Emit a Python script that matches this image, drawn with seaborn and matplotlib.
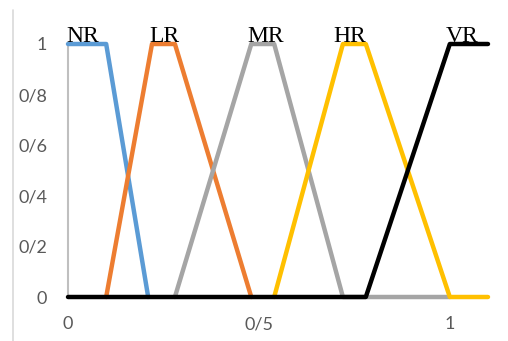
import numpy as np
import pandas as pd
import matplotlib
matplotlib.use("Agg")
import matplotlib.pyplot as plt
from matplotlib.lines import Line2D
import seaborn as sns

# Funciones de pertenencia
nr_x = [0.0, 0.10, 0.21]
nr_y = [1, 1, 0]
lr_x = [0.10, 0.22, 0.28, 0.48]
lr_y = [0, 1, 1, 0]
mr_x = [0.28, 0.48, 0.54, 0.72, 1.0]
mr_y = [0, 1, 1, 0, 0]
hr_x = [0.54, 0.72, 0.78, 1.0, 1.1]
hr_y = [0, 1, 1, 0, 0]
vr_x = [0.0, 0.78, 1.0, 1.1]
vr_y = [0, 0, 1, 1]

series_names = ["NR", "LR", "MR", "HR", "VR"]
series_colors = ["#5B9BD5", "#ED7D31", "#A5A5A5", "#FFC000", "#000000"]
label_x = [-0.003, 0.212, 0.471, 0.694, 0.99]

x_ticks = [0, 0.5, 1]
x_tick_labels = ["0", "0/5", "1"]
y_ticks = [0, 0.2, 0.4, 0.6, 0.8, 1]
y_tick_labels = ["0", "0/2", "0/4", "0/6", "0/8", "1"]

sns.set_style("white")
plt.rcParams['font.family'] = ['Lato', 'DejaVu Sans']

fig = plt.figure(figsize=(5.08, 3.41), dpi=100)
ax = fig.add_axes([68 / 508, 44 / 341, 420 / 508, 253 / 341])

series = [(nr_x, nr_y), (lr_x, lr_y), (mr_x, mr_y), (hr_x, hr_y), (vr_x, vr_y)]
# gris debajo del amarillo, negro encima de todo
for i in [0, 1, 2, 3, 4]:
    xs, ys = series[i]
    sns.lineplot(x=xs, y=ys, sort=False, color=series_colors[i], linewidth=3.2,
                 ax=ax, clip_on=False, solid_capstyle="round",
                 solid_joinstyle="round", zorder=3 + i)

for name, lx in zip(series_names, label_x):
    ax.text(lx, 1.006, name, ha="left", va="baseline", fontsize=17,
            family=["Liberation Serif"], color="black", zorder=10)

ax.set_xlim(0, 1.1)
ax.set_ylim(0, 1)
ax.set_xticks(x_ticks)
ax.set_xticklabels(x_tick_labels)
ax.set_yticks(y_ticks)
ax.set_yticklabels(y_tick_labels)
ax.tick_params(axis="both", length=0, labelsize=13, colors="#595959")
ax.tick_params(axis="y", pad=15)
ax.tick_params(axis="x", pad=14)

for side in ["top", "right", "bottom"]:
    ax.spines[side].set_visible(False)
ax.spines["left"].set_color("#BFBFBF")
ax.spines["left"].set_linewidth(1.5)

# borde izquierdo de la imagen
fig.add_artist(Line2D([13 / 508, 13 / 508], [0, 331 / 341], color="#D9D9D9",
                      linewidth=1.2, transform=fig.transFigure))

fig.savefig("out.png", dpi=100)
